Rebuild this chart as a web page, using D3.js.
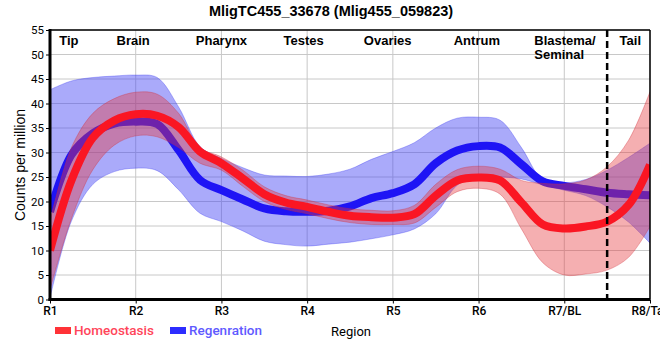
<!DOCTYPE html>
<html>
<head>
<meta charset="utf-8">
<script src="https://cdn.jsdelivr.net/npm/d3@7"></script>
<style>
  html, body { margin: 0; padding: 0; background: #fff; }
  svg { display: block; }
</style>
</head>
<body>
<svg id="chart" width="660" height="360"></svg>
<script>
// ---- data ----
const title = "MligTC455_33678 (Mlig455_059823)";
const xTickLabels = ["R1", "R2", "R3", "R4", "R5", "R6", "R7/BL", "R8/Tail"];
const yTicks = [0, 5, 10, 15, 20, 25, 30, 35, 40, 45, 50, 55];
const regionNames = ["Tip", "Brain", "Pharynx", "Testes", "Ovaries", "Antrum", "Blastema/\nSeminal", "Tail"];
const regionAt = [1.22, 1.97, 3.0, 3.96, 4.94, 5.98, 6.65, 7.77];
const regionAnchor = ["middle", "middle", "middle", "middle", "middle", "middle", "start", "middle"];
const boundaryAt = 7.5;
const seriesNames = ["Homeostasis", "Regenration"];

// sample positions (region index)
const pos = [1, 1.25, 1.5, 1.75, 2, 2.25, 2.5, 2.75, 3, 3.25, 3.5, 3.75, 4, 4.25, 4.5, 4.75,
             5, 5.25, 5.5, 5.75, 6, 6.25, 6.5, 6.75, 7, 7.25, 7.5, 7.75, 8];

const homeoMean = [10, 24.3, 33, 36.5, 37.8, 37.5, 35.2, 30.2, 27.8, 24.7, 21.5, 19.8, 18.9, 17.9, 17.1, 16.8,
                   16.7, 17.4, 21.2, 24.3, 24.9, 24.3, 19.8, 15.3, 14.5, 14.9, 15.9, 19.3, 27.5];
const homeoUpper = [16, 31, 38, 41, 42.3, 41.9, 38, 31, 29.1, 26.4, 23, 21.2, 20.3, 19.3, 18.5, 18.2,
                    18.1, 19.2, 23.5, 26.5, 27.2, 26.6, 24.3, 23.7, 23.6, 24.4, 27.1, 32.5, 42.4];
const homeoLower = [2, 16.5, 26.5, 31.5, 33.4, 33.2, 31, 27.8, 26.4, 23.1, 20, 18.4, 17.5, 16.5, 15.7, 15.3,
                    15.3, 15.6, 18.8, 22, 22.7, 21.5, 14.4, 7.5, 5, 5.2, 6, 8.6, 14.9];

const regenMean = [17.9, 29.5, 33.9, 35.9, 36.3, 35.8, 30.5, 24.4, 22.3, 20.4, 18.6, 18, 17.9, 18.1, 19, 20.7,
                   21.7, 23.5, 27.8, 30.4, 31.3, 31, 27.6, 24.1, 23.2, 22.5, 21.8, 21.5, 21.3];
const regenUpper = [42.8, 44.6, 45.3, 45.6, 45.8, 45.3, 39.3, 31.2, 28.8, 26.9, 25.4, 25.2, 25.1, 25.6, 26.6, 28.6,
                    30.2, 32, 35, 37, 37.2, 36.6, 31, 24.4, 23.8, 24.5, 26.4, 29, 31.9];
const regenLower = [0.3, 16, 23.5, 26.1, 26.8, 26.3, 22.4, 17.6, 15.9, 14, 11.9, 11.2, 10.9, 11.3, 11.7, 12.4,
                    13.2, 14.4, 17.5, 23.3, 25.1, 25, 24.6, 23.4, 22.3, 21.2, 18.9, 15.8, 11.5];

// ---- layout ----
const svg = d3.select("#chart");
const L = 50, R = 650, T = 30, B = 299.5;
const x = d3.scaleLinear().domain([1, 8]).range([L, R]);
const y = d3.scaleLinear().domain([0, 55]).range([B, T]);

svg.append("defs").append("clipPath").attr("id", "plotclip")
  .append("rect").attr("x", L).attr("y", T).attr("width", R - L).attr("height", B - T);

// grid
const grid = svg.append("g");
grid.selectAll("line.h").data(yTicks.slice(1)).enter().append("line")
  .attr("x1", L).attr("x2", R).attr("y1", d => y(d)).attr("y2", d => y(d))
  .attr("stroke", "#c8c8c8").attr("stroke-width", 1);
grid.selectAll("line.v").data(d3.range(1, 9)).enter().append("line")
  .attr("x1", d => x(d)).attr("x2", d => x(d)).attr("y1", T).attr("y2", B)
  .attr("stroke", "#c8c8c8").attr("stroke-width", 1);

const plot = svg.append("g").attr("clip-path", "url(#plotclip)");
const curve = d3.curveCatmullRom.alpha(0.5);

function band(upper, lower) {
  return d3.area().curve(curve)
    .x((d, i) => x(pos[i])).y0((d, i) => y(lower[i])).y1((d, i) => y(upper[i]))(pos);
}
function line(vals) {
  return d3.line().curve(curve).x((d, i) => x(pos[i])).y((d, i) => y(vals[i]))(pos);
}

// regeneration band + line
plot.append("path").attr("d", band(regenUpper, regenLower))
  .attr("fill", "rgba(70,70,245,0.46)").attr("stroke", "rgba(60,60,240,0.35)").attr("stroke-width", 1);
plot.append("path").attr("d", line(regenMean))
  .attr("fill", "none").attr("stroke", "rgb(30,20,245)").attr("stroke-width", 8);
// homeostasis band + line
plot.append("path").attr("d", band(homeoUpper, homeoLower))
  .attr("fill", "rgba(230,55,60,0.40)").attr("stroke", "rgba(210,50,60,0.35)").attr("stroke-width", 1);
plot.append("path").attr("d", line(homeoMean))
  .attr("fill", "none").attr("stroke", "rgb(250,22,35)").attr("stroke-width", 8);

// boundary dashed line
svg.append("line").attr("x1", x(boundaryAt)).attr("x2", x(boundaryAt)).attr("y1", T).attr("y2", B)
  .attr("stroke", "#000").attr("stroke-width", 2.5).attr("stroke-dasharray", "7,4");

// frame
svg.append("line").attr("x1", L).attr("x2", R).attr("y1", T).attr("y2", T).attr("stroke", "#000").attr("stroke-width", 1.5);
svg.append("line").attr("x1", R).attr("x2", R).attr("y1", T).attr("y2", B).attr("stroke", "#000").attr("stroke-width", 1.5);

// axes
const yAxis = d3.axisLeft(y).tickValues(yTicks).tickSize(4).tickPadding(2);
const gy = svg.append("g").attr("transform", `translate(${L},0)`).call(yAxis);
gy.select(".domain").remove();
gy.selectAll("text").attr("font-family", "Roboto, sans-serif").attr("font-size", 11.5).attr("fill", "#000");
svg.append("line").attr("x1", L).attr("x2", L).attr("y1", T - 1).attr("y2", B + 1.5)
  .attr("stroke", "#000").attr("stroke-width", 3);

const xAxis = d3.axisBottom(x).tickValues(d3.range(1, 9)).tickFormat((d, i) => xTickLabels[i]).tickSize(4).tickPadding(3);
const gx = svg.append("g").attr("transform", `translate(0,${B})`).call(xAxis);
gx.select(".domain").remove();
gx.selectAll("text").attr("font-family", "Roboto, sans-serif").attr("font-size", 12)
  .attr("font-weight", 500).attr("fill", "#000");
svg.append("line").attr("x1", L - 1.5).attr("x2", R).attr("y1", B).attr("y2", B)
  .attr("stroke", "#000").attr("stroke-width", 3);

// region labels
regionNames.forEach((name, i) => {
  const t = svg.append("text").attr("x", x(regionAt[i])).attr("y", 45)
    .attr("text-anchor", regionAnchor[i])
    .attr("font-family", "'Liberation Sans', Arial, sans-serif").attr("font-weight", "bold")
    .attr("font-size", 13).attr("fill", "#000");
  name.split("\n").forEach((part, j) => {
    t.append("tspan").attr("x", x(regionAt[i])).attr("dy", j === 0 ? 0 : 14).text(part);
  });
});

// title
svg.append("text").attr("x", 331).attr("y", 16).attr("text-anchor", "middle")
  .attr("font-family", "'Liberation Sans Narrow', 'Arial Narrow', sans-serif")
  .attr("font-weight", "bold").attr("font-size", 14.5).attr("fill", "#000").text(title);

// y title
svg.append("text").attr("transform", "translate(25,165) rotate(-90)").attr("text-anchor", "middle")
  .attr("font-family", "'Liberation Sans', Arial, sans-serif").attr("font-size", 14).attr("fill", "#000")
  .text("Counts per million");

// x title
svg.append("text").attr("x", 351).attr("y", 336).attr("text-anchor", "middle")
  .attr("font-family", "Roboto, sans-serif").attr("font-size", 13).attr("fill", "#000").text("Region");

// legend
const legendColors = ["rgb(255,50,55)", "rgb(45,45,255)"];
const legendText = ["rgb(255,70,90)", "rgb(95,90,255)"];
const legendX = [55, 170];
seriesNames.forEach((n, i) => {
  svg.append("rect").attr("x", legendX[i]).attr("y", 327).attr("width", 16).attr("height", 7)
    .attr("fill", legendColors[i]);
  svg.append("text").attr("x", legendX[i] + 19).attr("y", 335)
    .attr("font-family", "Roboto, sans-serif").attr("font-weight", 500).attr("font-size", 13.5)
    .attr("fill", legendText[i]).text(n);
});
</script>
</body>
</html>
